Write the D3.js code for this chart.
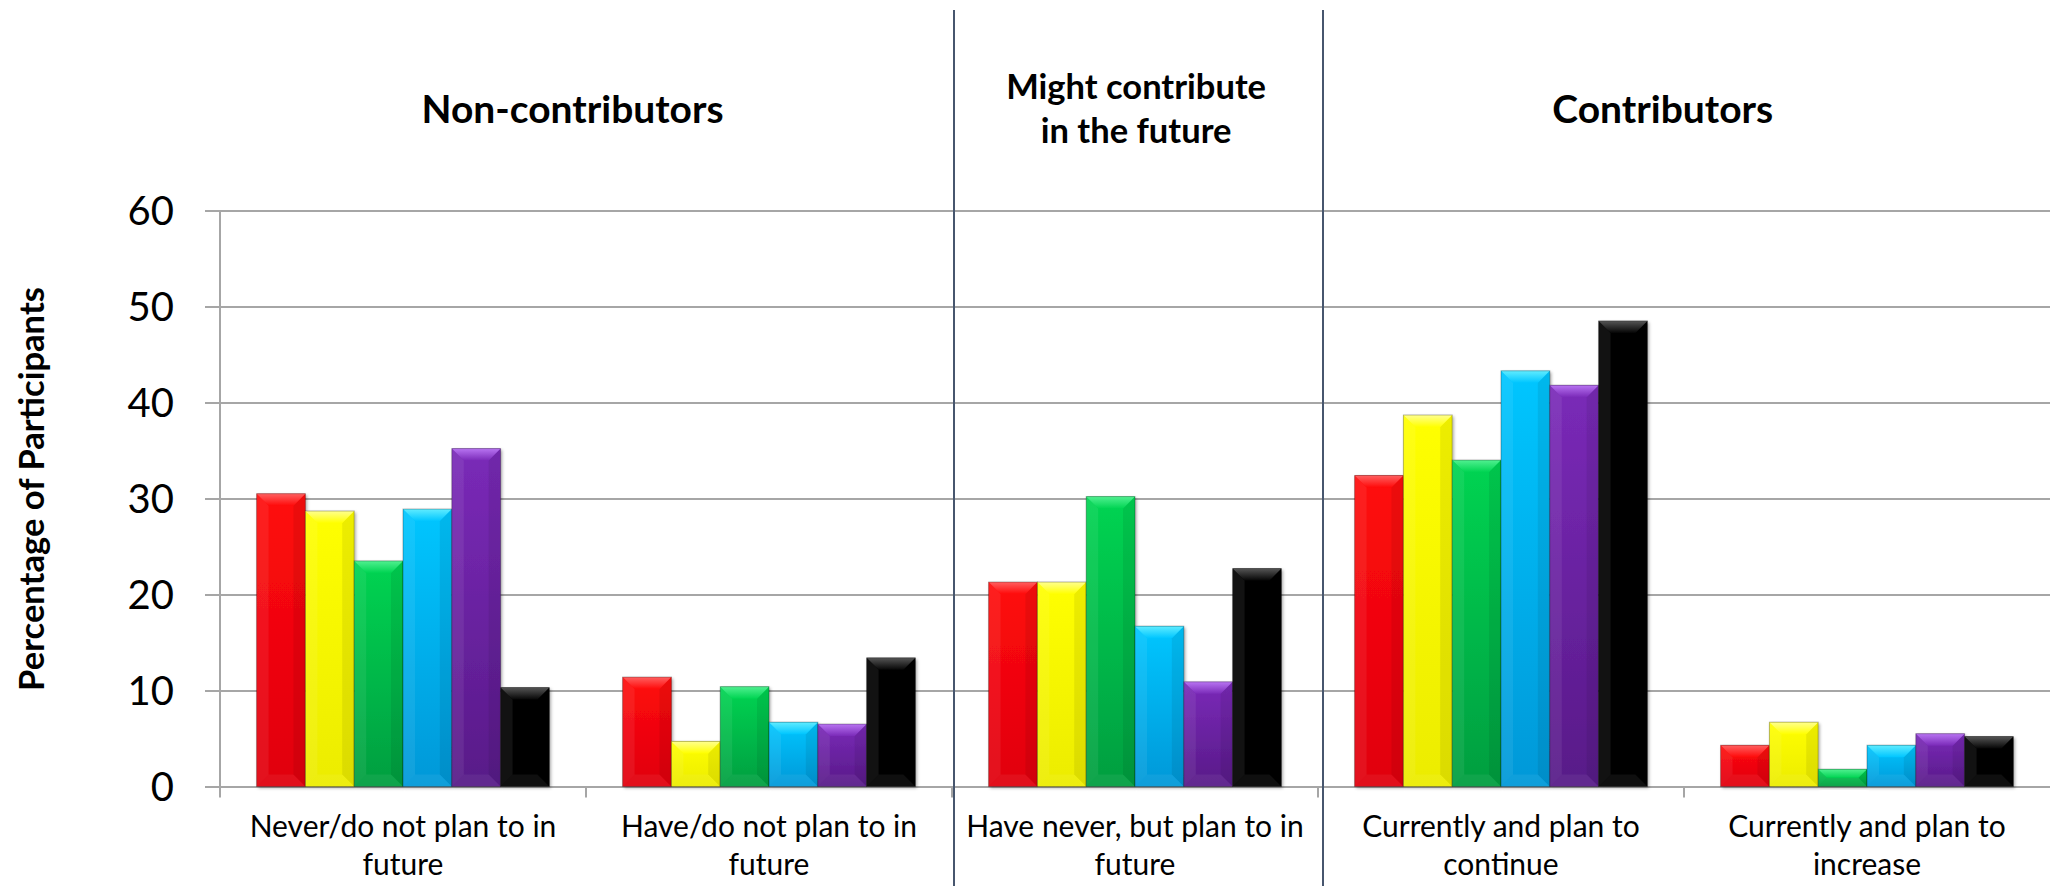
<!DOCTYPE html>
<html><head><meta charset="utf-8">
<script src="https://cdn.jsdelivr.net/npm/d3@7"></script>
<style>
html,body{margin:0;padding:0;background:#fff;}
svg{display:block;font-family:Lato,"Noto Sans",sans-serif;}
</style>
</head><body>
<svg id="chart" width="2050" height="886"></svg>
<script>
// ---------- DATA ----------
const categories = [
  "Never/do not plan to in future",
  "Have/do not plan to in future",
  "Have never, but plan to in future",
  "Currently and plan to continue",
  "Currently and plan to increase"
];
const categoryLines = [
  ["Never/do not plan to in", "future"],
  ["Have/do not plan to in", "future"],
  ["Have never, but plan to in", "future"],
  ["Currently and plan to", "continue"],
  ["Currently and plan to", "increase"]
];
const seriesNames = ["Red", "Yellow", "Green", "Cyan", "Purple", "Black"];
const redValues    = [30.5, 11.4, 21.3, 32.4, 4.3];
const yellowValues = [28.7,  4.7, 21.3, 38.7, 6.7];
const greenValues  = [23.5, 10.4, 30.2, 34.0, 1.8];
const cyanValues   = [28.9,  6.7, 16.7, 43.3, 4.3];
const purpleValues = [35.2,  6.5, 10.9, 41.8, 5.5];
const blackValues  = [10.3, 13.4, 22.7, 48.5, 5.2];
const yTicks = [0, 10, 20, 30, 40, 50, 60];
const groupTitles = [["Non-contributors"], ["Might contribute", "in the future"], ["Contributors"]];
const groupSpans = [[0, 1], [2, 2], [3, 4]];
const yAxisTitle = "Percentage of Participants";

// ---------- STYLE ----------
const seriesValues = [redValues, yellowValues, greenValues, cyanValues, purpleValues, blackValues];
const seriesColors = [
  {top:"#ff0a0a", bottom:"#e00010", bevel:"#ff6060"},
  {top:"#ffff00", bottom:"#ecec00", bevel:"#ffff90"},
  {top:"#00d452", bottom:"#009e40", bevel:"#50f090"},
  {top:"#00c6ff", bottom:"#0098d8", bevel:"#60ecff"},
  {top:"#7a2ab8", bottom:"#581a88", bevel:"#b874f2"},
  {top:"#050505", bottom:"#000000", bevel:"#555555"}
];
const W = 2050, H = 886;
const plot = {left:220, right:2050, top:210.5, bottom:786.5};
const gridColor = "#a6a6a6";
const dividerColor = "#47566e";

const svg = d3.select("#chart");
svg.append("rect").attr("width", W).attr("height", H).attr("fill", "#fff");
const defs = svg.append("defs");

const y = d3.scaleLinear().domain([0, 60]).range([plot.bottom, plot.top]);
const x0 = d3.scaleBand().domain(categories).range([plot.left, plot.right]).padding(0);
const x1 = d3.scaleBand().domain(seriesNames).range([0, x0.bandwidth()]).paddingInner(0).paddingOuter(0.75);

// gradients
seriesColors.forEach((c, i) => {
  const g = defs.append("linearGradient").attr("id", "body" + i)
    .attr("x1", 0).attr("y1", 0).attr("x2", 0).attr("y2", 1);
  g.append("stop").attr("offset", "0%").attr("stop-color", c.top);
  g.append("stop").attr("offset", "100%").attr("stop-color", c.bottom);
  const b = defs.append("linearGradient").attr("id", "bevel" + i)
    .attr("x1", 0).attr("y1", 0).attr("x2", 0).attr("y2", 1);
  b.append("stop").attr("offset", "0%").attr("stop-color", c.bevel);
  b.append("stop").attr("offset", "100%").attr("stop-color", c.top);
});
const f = defs.append("filter").attr("id", "shadow").attr("x", "-10%").attr("y", "-10%").attr("width", "130%").attr("height", "130%");
f.append("feDropShadow").attr("dx", 1.5).attr("dy", 1.5).attr("stdDeviation", 1.5).attr("flood-color", "#000").attr("flood-opacity", 0.35);

// ---------- GRIDLINES + Y AXIS ----------
const yAxis = d3.axisLeft(y).tickValues(yTicks)
  .tickSizeInner(-(plot.right - plot.left + 15)).tickSizeOuter(0).tickPadding(31);
const gy = svg.append("g").attr("transform", `translate(${plot.left - 15},0)`).call(yAxis);
gy.select(".domain").remove();
gy.selectAll(".tick line").attr("stroke", gridColor).attr("stroke-width", 2);
gy.selectAll(".tick text").attr("font-size", 40).attr("fill", "#000")
  .attr("font-family", "Lato, 'Noto Sans', sans-serif").attr("dy", "0.36em");

svg.append("line").attr("x1", plot.left).attr("x2", plot.left)
  .attr("y1", y(60)).attr("y2", plot.bottom + 11)
  .attr("stroke", gridColor).attr("stroke-width", 2);

// category ticks
const bounds = categories.map(c => x0(c)).concat([x0(categories[categories.length - 1]) + x0.bandwidth()]);
svg.append("g").selectAll("line").data(bounds.slice(1, -1)).join("line")
  .attr("x1", d => d).attr("x2", d => d)
  .attr("y1", plot.bottom).attr("y2", plot.bottom + 11)
  .attr("stroke", gridColor).attr("stroke-width", 2);

// ---------- BARS ----------
const barsG = svg.append("g");
seriesNames.forEach((s, si) => {
  seriesValues[si].forEach((v, ci) => {
    const bx = x0(categories[ci]) + x1(s);
    const bw = x1.bandwidth();
    const by = y(v);
    const bh = y(0) - y(v);
    const b = Math.min(12, bh / 2, bw / 3);
    const g = barsG.append("g");
    g.append("rect").attr("x", bx).attr("y", by).attr("width", bw).attr("height", bh)
      .attr("fill", `url(#body${si})`).attr("filter", "url(#shadow)");
    g.append("path").attr("d", `M${bx},${by}L${bx + b},${by + b}L${bx + b},${by + bh - b}L${bx},${by + bh}Z`)
      .attr("fill", "#fff").attr("fill-opacity", 0.07);
    g.append("path").attr("d", `M${bx + bw},${by}L${bx + bw - b},${by + b}L${bx + bw - b},${by + bh - b}L${bx + bw},${by + bh}Z`)
      .attr("fill", "#000").attr("fill-opacity", 0.07);
    g.append("path").attr("d", `M${bx},${by + bh}L${bx + b},${by + bh - b}L${bx + bw - b},${by + bh - b}L${bx + bw},${by + bh}Z`)
      .attr("fill", "#fff").attr("fill-opacity", 0.06);
    g.append("path").attr("d", `M${bx},${by}L${bx + bw},${by}L${bx + bw - b},${by + b}L${bx + b},${by + b}Z`)
      .attr("fill", `url(#bevel${si})`);
    g.append("rect").attr("x", bx).attr("y", by).attr("width", bw).attr("height", bh)
      .attr("fill", "none").attr("stroke", "#000").attr("stroke-opacity", 0.28).attr("stroke-width", 1);
  });
});

// ---------- CATEGORY LABELS ----------
const xl = svg.append("g").attr("font-size", 30).attr("fill", "#000").attr("text-anchor", "middle");
categories.forEach((c, ci) => {
  const t = xl.append("text").attr("x", x0(c) + x0.bandwidth() / 2).attr("y", 837);
  categoryLines[ci].forEach((ln, li) => {
    t.append("tspan").attr("x", x0(c) + x0.bandwidth() / 2).attr("dy", li === 0 ? 0 : 38).text(ln);
  });
});

// ---------- DIVIDERS ----------
const dividerAt = [x0(categories[2]) + 2, x0(categories[3]) + 5];
svg.append("g").selectAll("line").data(dividerAt).join("line")
  .attr("x1", d => d).attr("x2", d => d).attr("y1", 10).attr("y2", H)
  .attr("stroke", dividerColor).attr("stroke-width", 2);

// ---------- GROUP TITLES ----------
const titleAnchor = [0.4816, 0.503, 0.471];
const titleBaseline = [[123], [99, 143], [123]];
const titleFitWidth = [302, 260, 221];   // measured width of each group's first line
const tg = svg.append("g").attr("font-weight", 700).attr("fill", "#000").attr("text-anchor", "middle");
groupTitles.forEach((lines, gi) => {
  const [a, bIdx] = groupSpans[gi];
  const left = x0(categories[a]);
  const right = x0(categories[bIdx]) + x0.bandwidth();
  const cx = left + titleAnchor[gi] * (right - left);
  const texts = lines.map((ln, li) =>
    tg.append("text").attr("x", cx).attr("y", titleBaseline[gi][li]).attr("font-size", 40).text(ln));
  const w = texts[0].node().getComputedTextLength();
  texts.forEach(t => t.attr("font-size", 40 * titleFitWidth[gi] / w));
});

// ---------- Y AXIS TITLE ----------
const yt = svg.append("text").attr("transform", `translate(44,489) rotate(-90)`)
  .attr("text-anchor", "middle").attr("font-weight", 700).attr("font-size", 36).attr("fill", "#000")
  .text(yAxisTitle);
const yw = yt.node().getComputedTextLength();
yt.attr("font-size", 36 * 404 / yw);
</script>
</body></html>
